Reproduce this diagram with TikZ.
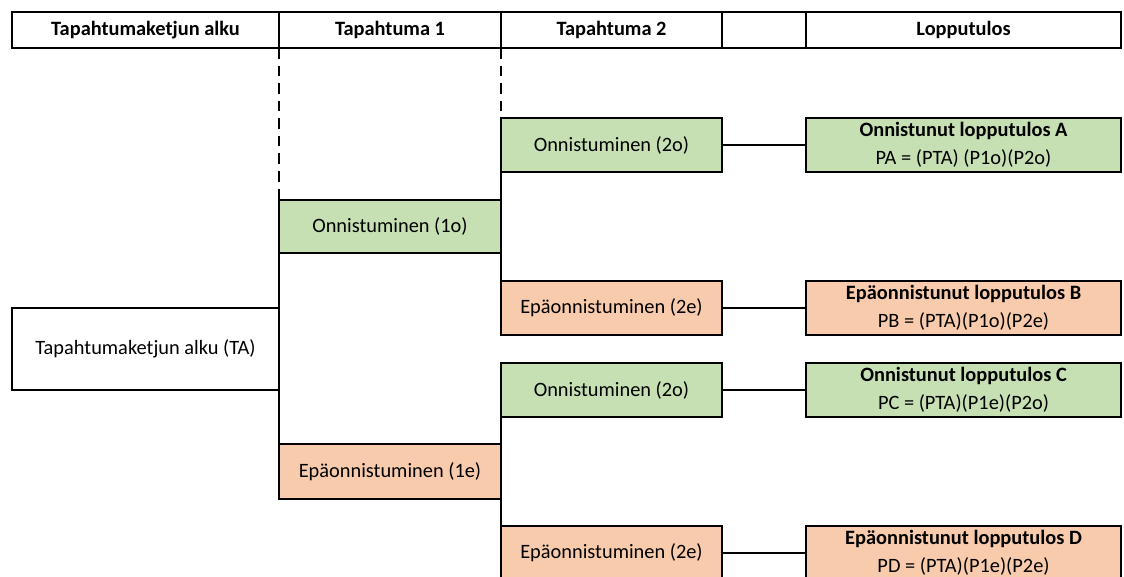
\documentclass[tikz,border=0pt]{standalone}
\usepackage{fontspec}
\setmainfont{Carlito}
\usepackage{xcolor}
\usetikzlibrary{positioning}

\definecolor{okgreen}{HTML}{C6E0B4}
\definecolor{failorange}{HTML}{F8CBAD}

\tikzset{
    cell/.style={draw, rectangle, line width=1.3pt, inner sep=0pt, outer sep=0pt, font=\fontsize{11.6}{16}\selectfont\bfseries},
    event/.style={draw, rectangle, line width=1.3pt, inner sep=0pt, outer sep=0pt,
        minimum width={221*0.02cm}, minimum height={54*0.02cm}},
    okbox/.style={event, fill=okgreen},
    failbox/.style={event, fill=failorange},
    result/.style={draw, rectangle, line width=1.3pt, inner sep=0pt, outer sep=0pt, align=center,
        minimum width={315*0.02cm}, minimum height={54*0.02cm}},
    branch/.style={line width=1.3pt},
    guide/.style={line width=1.4pt, dash pattern=on 6pt off 4pt}
}

\begin{document}
\begin{tikzpicture}[x=0.02cm, y=-0.02cm, font=\fontsize{11.6}{16}\selectfont]
    \clip (0,0) rectangle (1124,576);
    % header row
    \node[cell, minimum width={267*0.02cm}, minimum height={36*0.02cm}] (h0) at (145.5,30) {Tapahtumaketjun alku};
    \node[cell, minimum width={222*0.02cm}, minimum height={36*0.02cm}] (h1) at (390,30) {Tapahtuma 1};
    \node[cell, minimum width={221*0.02cm}, minimum height={36*0.02cm}] (h2) at (611.5,30) {Tapahtuma 2};
    \node[cell, minimum width={84*0.02cm}, minimum height={36*0.02cm}] (h3) at (764,30) {};
    \node[cell, minimum width={315*0.02cm}, minimum height={36*0.02cm}] (h4) at (963.5,30) {Lopputulos};

    % start
    \node[draw, rectangle, line width=1.3pt, inner sep=0pt, outer sep=0pt,
        minimum width={267*0.02cm}, minimum height={82*0.02cm}] (ta) at (145.5,349) {Tapahtumaketjun alku (TA)};

    % event 1
    \node[okbox, minimum width={222*0.02cm}, minimum height={53*0.02cm}] (o1) at (390,226.5) {Onnistuminen (1o)};
    \node[failbox, minimum width={222*0.02cm}, minimum height={55*0.02cm}] (e1) at (390,471.5) {Epäonnistuminen (1e)};

    % event 2
    \node[okbox] (o2a) at (611.5,145) {Onnistuminen (2o)};
    \node[failbox] (e2b) at (611.5,308) {Epäonnistuminen (2e)};
    \node[okbox] (o2c) at (611.5,390) {Onnistuminen (2o)};
    \node[failbox] (e2d) at (611.5,553) {Epäonnistuminen (2e)};

    % outcomes
    \node[result, fill=okgreen] (ra) at (963.5,145) {\textbf{Onnistunut lopputulos A}\\PA = (PTA) (P1o)(P2o)};
    \node[result, fill=failorange] (rb) at (963.5,308) {\textbf{Epäonnistunut lopputulos B}\\PB = (PTA)(P1o)(P2e)};
    \node[result, fill=okgreen] (rc) at (963.5,390) {\textbf{Onnistunut lopputulos C}\\PC = (PTA)(P1e)(P2o)};
    \node[result, fill=failorange] (rd) at (963.5,553) {\textbf{Epäonnistunut lopputulos D}\\PD = (PTA)(P1e)(P2e)};

    \draw[guide] (h1.south west) -- (o1.north west);
    \draw[guide] (h2.south west) -- (o2a.north west);
    \draw[branch] (o1.north west) -- (e1.south west);
    \draw[branch] (o2a.north west) -- (e2b.south west);
    \draw[branch] (o2c.north west) -- (e2d.south west);

    \draw[branch] (o2a.east) -- (ra.west);
    \draw[branch] (e2b.east) -- (rb.west);
    \draw[branch] (o2c.east) -- (rc.west);
    \draw[branch] (e2d.east) -- (rd.west);
\end{tikzpicture}
\end{document}
